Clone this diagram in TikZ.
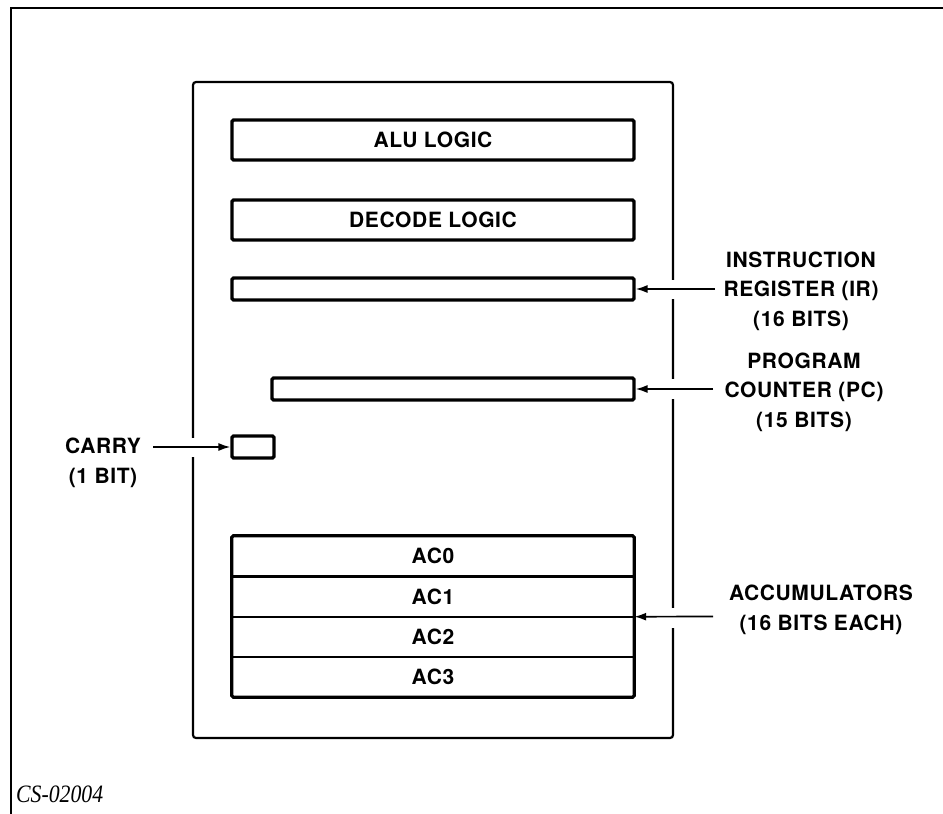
\documentclass[tikz,border=0pt]{standalone}
\usepackage{fontspec}
\usetikzlibrary{arrows.meta}
\newfontfamily\lblfont{TeX Gyre Heros}[LetterSpace=3]
\newfontfamily\capfont{Liberation Serif}[FakeStretch=0.87]

\tikzset{
  frameline/.style={line width=1.4pt},
  cpuline/.style={line width=2.2pt, rounded corners=3pt},
  regbox/.style={draw, line width=3.2pt, rounded corners=1.5pt, inner sep=0pt,
    font=\lblfont\bfseries\fontsize{21}{24}\selectfont},
  acrow/.style={inner sep=0pt, minimum width=402pt, minimum height=40.25pt,
    font=\lblfont\bfseries\fontsize{21}{24}\selectfont},
  lbl/.style={align=center, inner sep=0pt,
    font=\lblfont\bfseries\fontsize{21}{29.5}\selectfont},
  arr/.style={line width=1.7pt, -{Latex[length=12pt,width=8pt]}},
  gapfill/.style={fill=white, draw=none},
}

\begin{document}
\begin{tikzpicture}[x=1pt, y=-1pt]
\useasboundingbox (0,0) rectangle (943,814);

% outer sheet border (top and left edges only)
\draw[frameline] (943,8) -- (11,8) -- (11,814);

% processor outline
\draw[cpuline] (193,82) rectangle (673,738);

% internal blocks
\node[regbox, minimum width=402pt, minimum height=40pt] (alu) at (433,140) {ALU LOGIC};
\node[regbox, minimum width=402pt, minimum height=40pt] (dec) at (433,220) {DECODE LOGIC};
\node[regbox, minimum width=402pt, minimum height=22pt] (ir) at (433,289) {};
\node[regbox, minimum width=362pt, minimum height=22pt] (pc) at (453,389) {};
\node[regbox, minimum width=42pt, minimum height=22pt] (cy) at (253,447) {};

% accumulator stack
\node[acrow] (ac0) at (433,556.125) {AC0};
\node[acrow] (ac1) at (433,596.375) {AC1};
\node[acrow] (ac2) at (433,636.625) {AC2};
\node[acrow] (ac3) at (433,676.875) {AC3};
\draw[line width=2.4pt] (ac0.south west) -- (ac0.south east)
  (ac1.south west) -- (ac1.south east)
  (ac2.south west) -- (ac2.south east);
\draw[line width=3.2pt, rounded corners=1.5pt] (ac0.north west) rectangle (ac3.south east);

% breaks in the outline where the arrows pass
\fill[gapfill] (669,280) rectangle (677,299);
\fill[gapfill] (669,379) rectangle (677,399);
\fill[gapfill] (669,608) rectangle (677,628);
\fill[gapfill] (189,438) rectangle (197,457);

% labels
\node[lbl] (irl) at (801,291) {INSTRUCTION\\REGISTER (IR)\\(16 BITS)};
\node[lbl] (pcl) at (804,392) {PROGRAM\\COUNTER (PC)\\(15 BITS)};
\node[lbl] (acl) at (821,610) {ACCUMULATORS\\(16 BITS EACH)};
\node[lbl] (cyl) at (103,463) {CARRY\\(1 BIT)};

% arrow tails
\coordinate (irt) at (715,289);
\coordinate (pct) at (713,389);
\coordinate (act) at (713,616.5);
\coordinate (cyt) at (153,447);

\draw[arr] (irt) -- (ir.east);
\draw[arr] (pct) -- (pc.east);
\draw[arr] (act) -- (ac1.south east);
\draw[arr] (cyt) -- (cy.west);

% drawing number
\node[anchor=base west, inner sep=0pt, font=\capfont\itshape\fontsize{25}{28}\selectfont] (num) at (16,802) {CS-02004};
\end{tikzpicture}
\end{document}
